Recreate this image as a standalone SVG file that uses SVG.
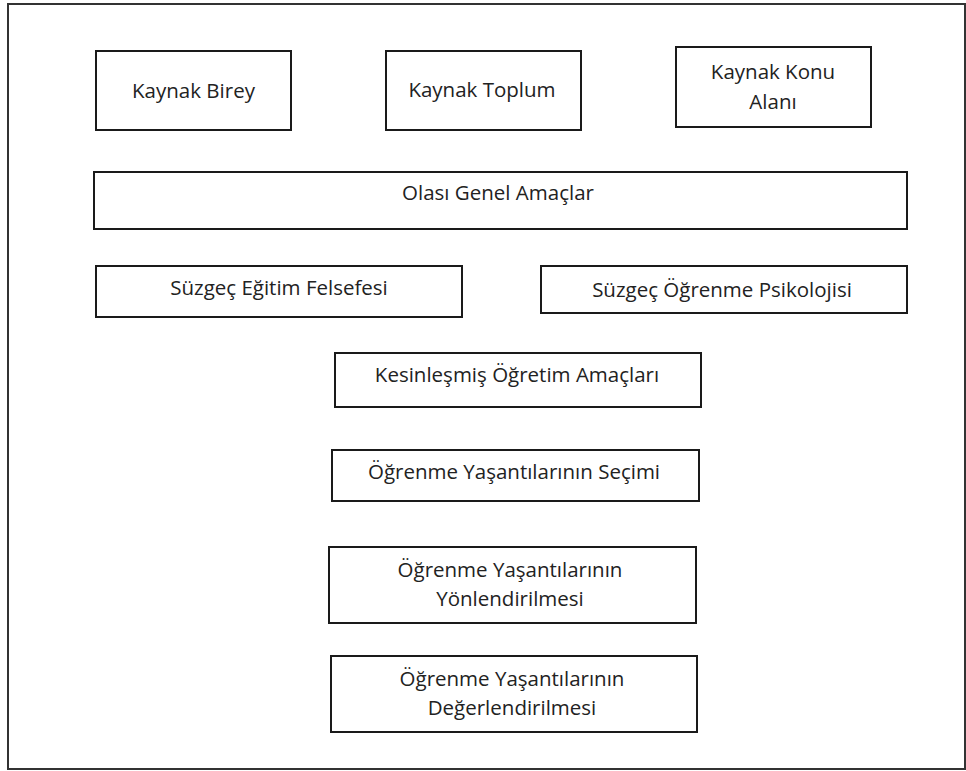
<svg xmlns="http://www.w3.org/2000/svg" width="966" height="771" viewBox="0 0 966 771">
<style>
.box{fill:#fff;stroke:#1a1a1a;stroke-width:2}
.frame{fill:#fff;stroke:#333;stroke-width:2}
text{font-family:"Open Sans","Liberation Sans",sans-serif;font-size:20.5px;fill:#222;text-anchor:middle}
</style>
<rect class="frame" x="8" y="4" width="957" height="765"/>
<g id="connectors"></g>
<g id="kaynak-birey"><rect class="box" x="96" y="51" width="195" height="79"/><text x="193.5" y="98">Kaynak Birey</text></g>
<g id="kaynak-toplum"><rect class="box" x="386" y="51" width="195" height="79"/><text x="482" y="97">Kaynak Toplum</text></g>
<g id="kaynak-konu"><rect class="box" x="676" y="47" width="195" height="80"/><text x="773" y="79">Kaynak Konu</text><text x="773" y="109">Alanı</text></g>
<g id="olasi"><rect class="box" x="94" y="172" width="813" height="57"/><text x="498" y="200">Olası Genel Amaçlar</text></g>
<g id="suzgec-egitim"><rect class="box" x="96" y="266" width="366" height="51"/><text x="279" y="295">Süzgeç Eğitim Felsefesi</text></g>
<g id="suzgec-ogrenme"><rect class="box" x="541" y="266" width="366" height="47"/><text x="722" y="296.5">Süzgeç Öğrenme Psikolojisi</text></g>
<g id="kesinlesmis"><rect class="box" x="335" y="353" width="366" height="54"/><text x="517" y="382">Kesinleşmiş Öğretim Amaçları</text></g>
<g id="secimi"><rect class="box" x="332" y="450" width="367" height="51"/><text x="514" y="479">Öğrenme Yaşantılarının Seçimi</text></g>
<g id="yonlendirilmesi"><rect class="box" x="329" y="547" width="367" height="76"/><text x="510" y="577">Öğrenme Yaşantılarının</text><text x="510" y="606">Yönlendirilmesi</text></g>
<g id="degerlendirilmesi"><rect class="box" x="331" y="656" width="366" height="76"/><text x="512" y="685.5">Öğrenme Yaşantılarının</text><text x="512" y="715">Değerlendirilmesi</text></g>
</svg>
